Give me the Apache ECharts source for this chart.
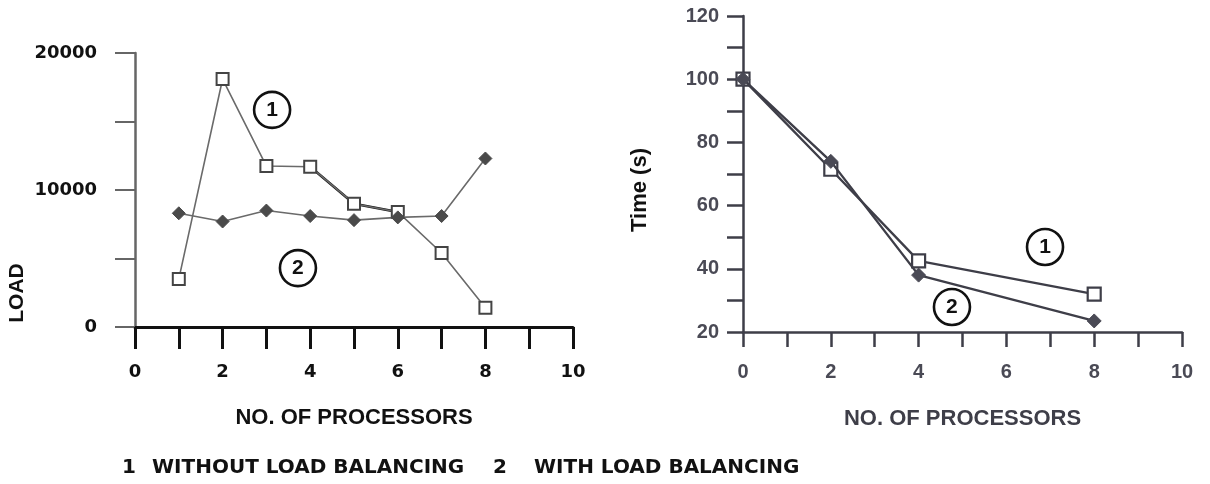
<!DOCTYPE html>
<html>
<head>
<meta charset="utf-8">
<script src="https://cdn.jsdelivr.net/npm/echarts@6/dist/echarts.min.js"></script>
<style>
html,body{margin:0;padding:0;background:#fff;}
#chart{width:1210px;height:484px;}
</style>
</head>
<body>
<div id="chart"></div>
<script>
// ---- Left panel: LOAD vs number of processors ----
const loadProcessors = [1, 2, 3, 4, 5, 6, 7, 8];
const loadWithout = [3500, 18100, 11750, 11700, 9000, 8400, 5400, 1400];
const loadWith = [8300, 7700, 8500, 8100, 7800, 8000, 8100, 12300];
const loadYTickLabels = [0, 10000, 20000];
const loadXTickLabels = [0, 2, 4, 6, 8, 10];

// ---- Right panel: Time vs number of processors ----
const timeProcessors = [0, 2, 4, 8];
const timeWithout = [100, 71.5, 42.5, 32];
const timeWith = [100, 74, 38, 23.5];
const timeYTickLabels = [20, 40, 60, 80, 100, 120];
const timeXTickLabels = [0, 2, 4, 6, 8, 10];

const legendItems = ['1', 'WITHOUT LOAD BALANCING', '2', 'WITH LOAD BALANCING'];
const xTitle = 'NO. OF PROCESSORS';

const pair = (xs, ys) => xs.map((x, i) => [x, ys[i]]);

const circleMark = (txt, coord) => ({
  coord: coord,
  symbol: 'circle',
  symbolSize: 36,
  itemStyle: { color: 'rgba(255,255,255,0)', borderColor: '#111', borderWidth: 2.6 },
  label: { show: true, position: 'inside', formatter: txt, color: '#111',
           fontFamily: 'Liberation Sans', fontWeight: 'bold', fontSize: 21 }
});

const chart = echarts.init(document.getElementById('chart'), null, { renderer: 'canvas' });

const option = {
  backgroundColor: '#ffffff',
  animation: false,
  grid: [
    { left: 135, top: 53, width: 438, height: 274 },
    { left: 743, top: 16, width: 439, height: 316 }
  ],
  xAxis: [
    {
      gridIndex: 0, type: 'value', min: 0, max: 10, interval: 1,
      name: xTitle, nameLocation: 'middle', nameGap: 80,
      nameTextStyle: { fontFamily: 'Liberation Sans', fontWeight: 'bold', fontSize: 22, color: '#111' },
      axisLine: { show: true, onZero: false, lineStyle: { color: '#111', width: 3 } },
      axisTick: { show: true, inside: false, length: 22, lineStyle: { color: '#111', width: 3 } },
      axisLabel: {
        margin: 36, fontFamily: 'DejaVu Sans', fontWeight: 'bold', fontSize: 18, color: '#111',
        formatter: v => loadXTickLabels.includes(v) ? String(v) : ''
      },
      splitLine: { show: false }
    },
    {
      gridIndex: 1, type: 'value', min: 0, max: 10, interval: 1,
      name: xTitle, nameLocation: 'middle', nameGap: 76,
      nameTextStyle: { fontFamily: 'Liberation Sans', fontWeight: 'bold', fontSize: 22, color: '#3e3e48' },
      axisLine: { show: true, onZero: false, lineStyle: { color: '#3e3e48', width: 2.5 } },
      axisTick: { show: true, inside: false, length: 15, lineStyle: { color: '#3e3e48', width: 2.5 } },
      axisLabel: {
        margin: 30, fontFamily: 'Liberation Sans', fontWeight: 'bold', fontSize: 20, color: '#4a4a55',
        formatter: v => timeXTickLabels.includes(v) ? String(v) : ''
      },
      splitLine: { show: false }
    }
  ],
  yAxis: [
    {
      gridIndex: 0, type: 'value', min: 0, max: 20000, interval: 5000,
      axisLine: { show: true, onZero: false, lineStyle: { color: '#666', width: 2.5 } },
      axisTick: { show: true, inside: false, length: 20, lineStyle: { color: '#666', width: 2 } },
      axisLabel: {
        margin: 38, fontFamily: 'DejaVu Sans', fontWeight: 'bold', fontSize: 18, color: '#111',
        formatter: v => loadYTickLabels.includes(v) ? String(v) : ''
      },
      splitLine: { show: false }
    },
    {
      gridIndex: 1, type: 'value', min: 20, max: 120, interval: 10,
      axisLine: { show: true, onZero: false, lineStyle: { color: '#3e3e48', width: 2.5 } },
      axisTick: { show: true, inside: false, length: 16, lineStyle: { color: '#3e3e48', width: 2.5 } },
      axisLabel: {
        margin: 24, fontFamily: 'Liberation Sans', fontWeight: 'bold', fontSize: 20, color: '#4a4a55',
        formatter: v => timeYTickLabels.includes(v) ? String(v) : ''
      },
      splitLine: { show: false }
    }
  ],
  series: [
    {
      type: 'line', xAxisIndex: 0, yAxisIndex: 0, z: 3,
      data: pair(loadProcessors, loadWithout),
      symbol: 'rect', symbolSize: 12,
      lineStyle: { color: '#6a6a6a', width: 1.6 },
      itemStyle: { color: '#ffffff', borderColor: '#444', borderWidth: 2 },
      markPoint: { data: [circleMark('1', [3.13, 15850])] }
    },
    {
      // darker stretch of curve 1 as printed in the original
      type: 'line', xAxisIndex: 0, yAxisIndex: 0, z: 2, symbol: 'none',
      data: pair(loadProcessors, loadWithout).map(p => (p[0] >= 4 && p[0] <= 6) ? p : [p[0], null]),
      connectNulls: false,
      lineStyle: { color: '#111', width: 2.6 }
    },
    {
      type: 'line', xAxisIndex: 0, yAxisIndex: 0, z: 4,
      data: pair(loadProcessors, loadWith),
      symbol: 'diamond', symbolSize: 13,
      lineStyle: { color: '#6a6a6a', width: 1.6 },
      itemStyle: { color: '#4a4a4a', borderColor: '#4a4a4a', borderWidth: 1 },
      markPoint: { data: [circleMark('2', [3.72, 4300])] }
    },
    {
      type: 'line', xAxisIndex: 1, yAxisIndex: 1, z: 3,
      data: pair(timeProcessors, timeWithout),
      symbol: 'rect', symbolSize: 13,
      lineStyle: { color: '#3e3e48', width: 2.4 },
      itemStyle: { color: '#ffffff', borderColor: '#3e3e48', borderWidth: 2.2 },
      markPoint: { data: [circleMark('1', [6.88, 46.9])] }
    },
    {
      type: 'line', xAxisIndex: 1, yAxisIndex: 1, z: 4,
      data: pair(timeProcessors, timeWith),
      symbol: 'diamond', symbolSize: 14,
      lineStyle: { color: '#3e3e48', width: 2.4 },
      itemStyle: { color: '#4a4a55', borderColor: '#4a4a55', borderWidth: 1 },
      markPoint: { data: [circleMark('2', [4.76, 27.9])] }
    }
  ],
  graphic: [
    {
      type: 'text', x: 17, y: 293, rotation: Math.PI / 2,
      style: { text: 'LOAD', x: 0, y: 0, align: 'center', verticalAlign: 'middle',
               font: 'bold 21px "Liberation Sans"', fill: '#111' }
    },
    {
      type: 'text', x: 640, y: 190, rotation: Math.PI / 2,
      style: { text: 'Time (s)', x: 0, y: 0, align: 'center', verticalAlign: 'middle',
               font: 'bold 22px "Liberation Sans"', fill: '#111' }
    },
    { type: 'text', x: 122, y: 468,
      style: { text: legendItems[0], align: 'left', verticalAlign: 'middle', font: 'bold 20px "DejaVu Sans"', fill: '#111' } },
    { type: 'text', x: 152, y: 468,
      style: { text: legendItems[1], align: 'left', verticalAlign: 'middle', font: 'bold 20px "DejaVu Sans"', fill: '#111' } },
    { type: 'text', x: 493, y: 468,
      style: { text: legendItems[2], align: 'left', verticalAlign: 'middle', font: 'bold 20px "DejaVu Sans"', fill: '#111' } },
    { type: 'text', x: 534, y: 468,
      style: { text: legendItems[3], align: 'left', verticalAlign: 'middle', font: 'bold 20px "DejaVu Sans"', fill: '#111' } }
  ]
};

chart.setOption(option);
</script>
</body>
</html>
